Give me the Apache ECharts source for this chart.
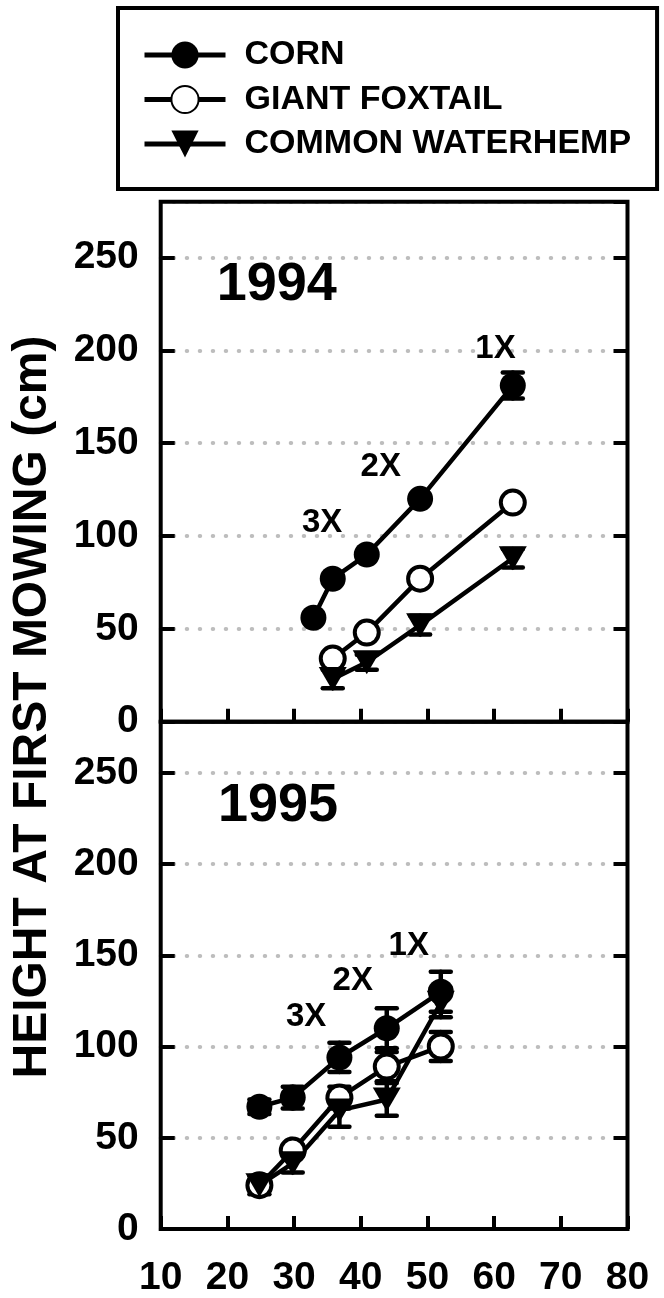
<!DOCTYPE html>
<html>
<head>
<meta charset="utf-8" />
<title>Height at first mowing</title>
<script src="https://cdn.jsdelivr.net/npm/echarts@6/dist/echarts.min.js"></script>
</head>
<body style="margin:0;background:#fff">
<div id="main" style="width:664px;height:1298px;background:#fff"></div>
<script type="text/javascript">
// days (x) for each year
var days94Corn = [32.9, 35.8, 40.9, 48.9, 62.8];
var days94Weed = [35.8, 40.9, 48.9, 62.8];
var days95 = [24.8, 29.8, 36.8, 43.9, 52];

// heights (cm) and error half-widths
var corn94 = [56, 77, 90, 120, 181];
var corn94Err = [1, 1, 1, 1, 7];
var foxtail94 = [34, 48, 77, 118];
var foxtail94Err = [1, 1, 1, 1];
var waterhemp94 = [23, 32, 52, 88];
var waterhemp94Err = [5, 4, 5, 5];

var corn95 = [67, 72, 94, 110, 130];
var corn95Err = [4, 6, 8, 11, 11];
var foxtail95 = [24, 43, 72, 89, 100];
var foxtail95Err = [3, 3, 6, 8, 8];
var waterhemp95 = [24, 36, 65, 71, 124];
var waterhemp95Err = [5, 5, 9, 9, 8];

var seriesNames = ['CORN', 'GIANT FOXTAIL', 'COMMON WATERHEMP'];
var yearLabels = ['1994', '1995'];
var mowLabels = ['1X', '2X', '3X'];
// annotation anchors in data units
var yearAt = [[27.4, 235], [27.6, 232]];
var mow94At = [[60.2, 201], [43, 137], [34.2, 107]];
var mow95At = [[47.2, 155], [38.8, 136], [31.8, 116]];

var FONT = '"Liberation Sans", Arial, sans-serif';
var chart = echarts.init(document.getElementById('main'));

function pts(xs, ys) {
  return xs.map(function (x, i) { return [x, ys[i]]; });
}
function errPts(xs, ys, es) {
  return xs.map(function (x, i) { return [x, ys[i] - es[i], ys[i] + es[i]]; });
}

function errorSeries(gi, data) {
  return {
    type: 'custom', xAxisIndex: gi, yAxisIndex: gi * 2, z: 1, silent: true,
    encode: { x: 0, y: [1, 2] },
    data: data,
    renderItem: function (params, api) {
      var x = api.value(0);
      var lo = api.coord([x, api.value(1)]);
      var hi = api.coord([x, api.value(2)]);
      var w = 10;
      var st = { stroke: '#000', lineWidth: 4.5, lineCap: 'round' };
      return {
        type: 'group', children: [
          { type: 'line', shape: { x1: lo[0], y1: lo[1], x2: hi[0], y2: hi[1] }, style: st },
          { type: 'line', shape: { x1: lo[0] - w, y1: lo[1], x2: lo[0] + w, y2: lo[1] }, style: st },
          { type: 'line', shape: { x1: hi[0] - w, y1: hi[1], x2: hi[0] + w, y2: hi[1] }, style: st }
        ]
      };
    }
  };
}

function lineSeries(name, gi, data, kind) {
  var s = {
    name: name, type: 'line', xAxisIndex: gi, yAxisIndex: gi * 2, data: data, z: 3,
    lineStyle: { color: '#000', width: 4.5 },
    symbol: 'circle', symbolSize: 26,
    itemStyle: { color: '#000' }
  };
  if (kind === 'open') {
    s.symbolSize = 24;
    s.itemStyle = { color: '#fff', borderColor: '#000', borderWidth: 4 };
  } else if (kind === 'tri') {
    s.symbol = 'triangle';
    s.symbolRotate = 180;
    s.symbolSize = [28, 24];
  }
  return s;
}

function labelPoints(gi) {
  var mow = gi === 0 ? mow94At : mow95At;
  var d = [{ name: yearLabels[gi], coord: yearAt[gi], label: { fontSize: 54 } }];
  mowLabels.forEach(function (t, i) {
    d.push({ name: t, coord: mow[i], label: { fontSize: 33 } });
  });
  return {
    symbol: 'circle', symbolSize: 0, silent: true,
    label: { show: true, position: 'inside', formatter: '{b}', color: '#000', fontFamily: FONT, fontWeight: 'bold' },
    data: d
  };
}

var tickStyle = { color: '#000', width: 4 };
var labelStyle = { color: '#000', fontFamily: FONT, fontWeight: 'bold', fontSize: 39 };

function xAxis(gi) {
  return {
    gridIndex: gi, type: 'value', min: 10, max: 80, interval: 10,
    axisLine: { show: false },
    axisTick: { inside: true, length: 13, lineStyle: tickStyle },
    axisLabel: gi === 1 ? Object.assign({ margin: 30 }, labelStyle) : { show: false },
    splitLine: { show: false }
  };
}
function yAxes(gi, max) {
  return [{
    gridIndex: gi, type: 'value', min: 0, max: max, interval: 50, position: 'left',
    axisLine: { show: false },
    axisTick: { inside: true, length: 14, lineStyle: tickStyle },
    axisLabel: Object.assign({ margin: 22, showMaxLabel: false }, labelStyle),
    splitLine: { show: true, lineStyle: { color: '#bdbdbd', width: 4, type: [0.5, 12.5], cap: 'round' } }
  }, {
    gridIndex: gi, type: 'value', min: 0, max: max, interval: 50, position: 'right',
    axisLine: { show: false },
    axisTick: { inside: true, length: 14, lineStyle: tickStyle },
    axisLabel: { show: false },
    splitLine: { show: false }
  }];
}

var c94 = lineSeries(seriesNames[0], 0, pts(days94Corn, corn94), 'fill');
c94.markPoint = labelPoints(0);
var c95 = lineSeries(seriesNames[0], 1, pts(days95, corn95), 'fill');
c95.markPoint = labelPoints(1);

var option = {
  animation: false,
  backgroundColor: '#fff',
  legend: {
    data: seriesNames, orient: 'vertical', left: 118, top: 8,
    padding: [30, 26, 28, 24], itemWidth: 81, itemHeight: 34, itemGap: 10.5,
    borderColor: '#000', borderWidth: 4, selectedMode: false,
    lineStyle: { width: 5 },
    textStyle: { color: '#000', fontFamily: FONT, fontWeight: 'bold', fontSize: 34, lineHeight: 34, padding: [0, 0, 0, 14] }
  },
  grid: [
    { left: 160.7, top: 201.7, width: 466.8, height: 520, show: true, borderColor: '#000', borderWidth: 4, z: 10 },
    { left: 160.7, top: 721.7, width: 466.8, height: 515, show: true, borderColor: '#000', borderWidth: 4, z: 10 }
  ],
  xAxis: [xAxis(0), xAxis(1)],
  yAxis: yAxes(0, 280).concat(yAxes(1, 278)),
  graphic: [{
    type: 'text', x: 33, y: 707, rotation: Math.PI / 2,
    style: {
      text: 'HEIGHT AT FIRST MOWING (cm)', font: 'bold 48px ' + FONT,
      align: 'center', verticalAlign: 'middle', textAlign: 'center', textVerticalAlign: 'middle', fill: '#000'
    }
  }],
  series: [
    errorSeries(0, errPts(days94Corn, corn94, corn94Err)),
    errorSeries(0, errPts(days94Weed, foxtail94, foxtail94Err)),
    errorSeries(0, errPts(days94Weed, waterhemp94, waterhemp94Err)),
    errorSeries(1, errPts(days95, corn95, corn95Err)),
    errorSeries(1, errPts(days95, foxtail95, foxtail95Err)),
    errorSeries(1, errPts(days95, waterhemp95, waterhemp95Err)),
    c94,
    lineSeries(seriesNames[1], 0, pts(days94Weed, foxtail94), 'open'),
    lineSeries(seriesNames[2], 0, pts(days94Weed, waterhemp94), 'tri'),
    c95,
    lineSeries(seriesNames[1], 1, pts(days95, foxtail95), 'open'),
    lineSeries(seriesNames[2], 1, pts(days95, waterhemp95), 'tri')
  ]
};

chart.setOption(option);
</script>
</body>
</html>
